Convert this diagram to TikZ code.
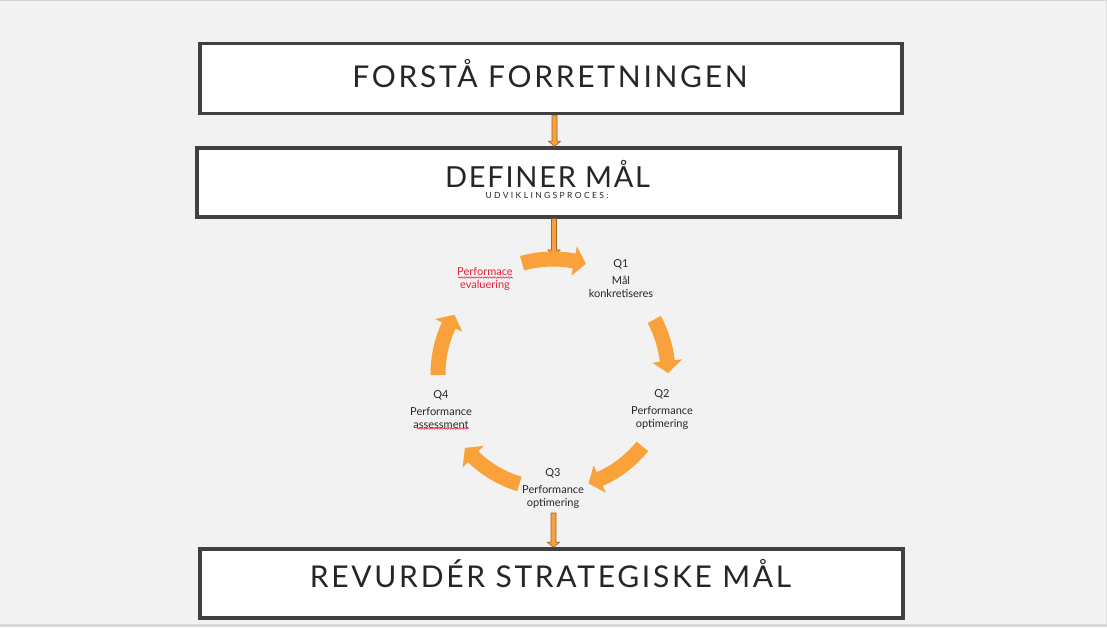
\documentclass[tikz,border=0pt]{standalone}
\usepackage{fontspec}
\setmainfont{Lato}
\newfontfamily\titlefont[LetterSpace=9]{Lato}
\newfontfamily\titlefontb[LetterSpace=6]{Lato}
\newfontfamily\trackfont[LetterSpace=28]{Lato}
\usetikzlibrary{calc,decorations.pathmorphing}
\definecolor{bg}{HTML}{F2F2F2}
\definecolor{boxline}{HTML}{404040}
\definecolor{txt}{HTML}{262626}
\definecolor{cyclefill}{HTML}{F9A13B}
\definecolor{blockfill}{HTML}{F5A041}
\definecolor{blockedge}{HTML}{A8641F}
\definecolor{redtxt}{HTML}{E8203A}
\tikzset{
  bigbox/.style={draw=boxline, line width=3.5pt, fill=white, minimum width=703pt, minimum height=69pt, inner sep=0pt},
  titletext/.style={text=txt, font=\titlefont\fontsize{30}{36}\selectfont, inner sep=0pt, anchor=base, text depth=0pt},
  tracktext/.style={text=txt, font=\trackfont\fontsize{8.5}{10}\selectfont, inner sep=0pt, anchor=base, text height=6pt, text depth=0pt},
  lbl/.style={text=txt, font=\fontsize{11}{13}\selectfont, align=center, inner sep=0pt},
  redlbl/.style={lbl, text=redtxt},
  blockstyle/.style={fill=blockfill, draw=blockedge, line width=0.7pt, line join=miter},
  squiggle/.style={draw=redtxt, line width=0.5pt, decorate, decoration={snake, amplitude=0.7pt, segment length=2.6pt}}
}
\newcommand\vblock[2]{%
  \filldraw[blockstyle] ($(#1)+(-2.5,0)$) -- ($(#2)+(-2.5,-5)$) -- ($(#2)+(-6,-5)$) -- (#2) -- ($(#2)+(6,-5)$) -- ($(#2)+(2.5,-5)$) -- ($(#1)+(2.5,0)$) -- cycle;}
\newcommand\carrow[3]{%
  \fill[cyclefill] (#1:122.5) arc[start angle=#1, end angle=#2, radius=122.5] -- (#2:130) -- (#3:115) -- (#2:100) -- (#2:107.5) arc[start angle=#2, end angle=#1, radius=107.5] -- cycle;}
\begin{document}
\begin{tikzpicture}[x=1pt,y=-1pt]
\fill[bg] (0,0) rectangle (1107,627);
\useasboundingbox (0,0) rectangle (1107,627);
\fill[black!16] (0,623.5) rectangle (1107,627);
\fill[black!12] (1105.5,0) rectangle (1107,623.5);
\fill[black!16] (0,0) rectangle (1107,1);

% boxes
\node[bigbox, minimum width=702pt, minimum height=70pt] (b1) at (551,78.5) {};
\node[bigbox] (b2) at (548.5,182.5) {};
\node[bigbox] (b3) at (551.5,583.5) {};

\node[titletext] (t1) at (550,87) {FORSTÅ FORRETNINGEN};
\node[titletext, font=\titlefontb\fontsize{29}{35}\selectfont] (t2) at (547.5,187) {DEFINER MÅL};
\node[tracktext] (t2s) at (547,198) {UDVIKLINGSPROCES:};
\node[titletext] (t3) at (550.5,587) {REVURDÉR STRATEGISKE MÅL};

% cycle labels
\node[lbl] (q1) at (621,279) {Q1\\[4pt]Mål\\konkretiseres};
\node[redlbl] (pe) at (485,279) {Performace\\evaluering};
\node[lbl] (q2) at (662,410) {Q2\\[4pt]Performance\\optimering};
\node[lbl] (q3) at (553,488.5) {Q3\\[4pt]Performance\\optimering};
\node[lbl] (q4) at (441,410) {Q4\\[4pt]Performance\\assessment};

% spell-check squiggles
\draw[squiggle] (458,277.5) -- (513,277.5);
\draw[squiggle] (417,428.5) -- (469,428.5);

% cycle centre and free ends
\coordinate (cc) at (553,374);
\coordinate (cyctop) at (554,255);
\coordinate (q3foot) at (553.5,513);

% vertical block arrows
\vblock{554.5,0 |- b1.south}{554.5,0 |- b2.north}
\vblock{554,0 |- b2.south}{cyctop}
\vblock{q3foot}{553.5,0 |- b3.north}

% circular arrows
\begin{scope}[shift={(cc)}, yscale=-1]
  \carrow{105.6}{79.4}{73.4}
  \carrow{28.3}{6.5}{0.5}
  \carrow{-39}{-66}{-72}
  \carrow{-107}{-134}{-140}
  \carrow{180.5}{155}{149}
\end{scope}
\end{tikzpicture}
\end{document}
